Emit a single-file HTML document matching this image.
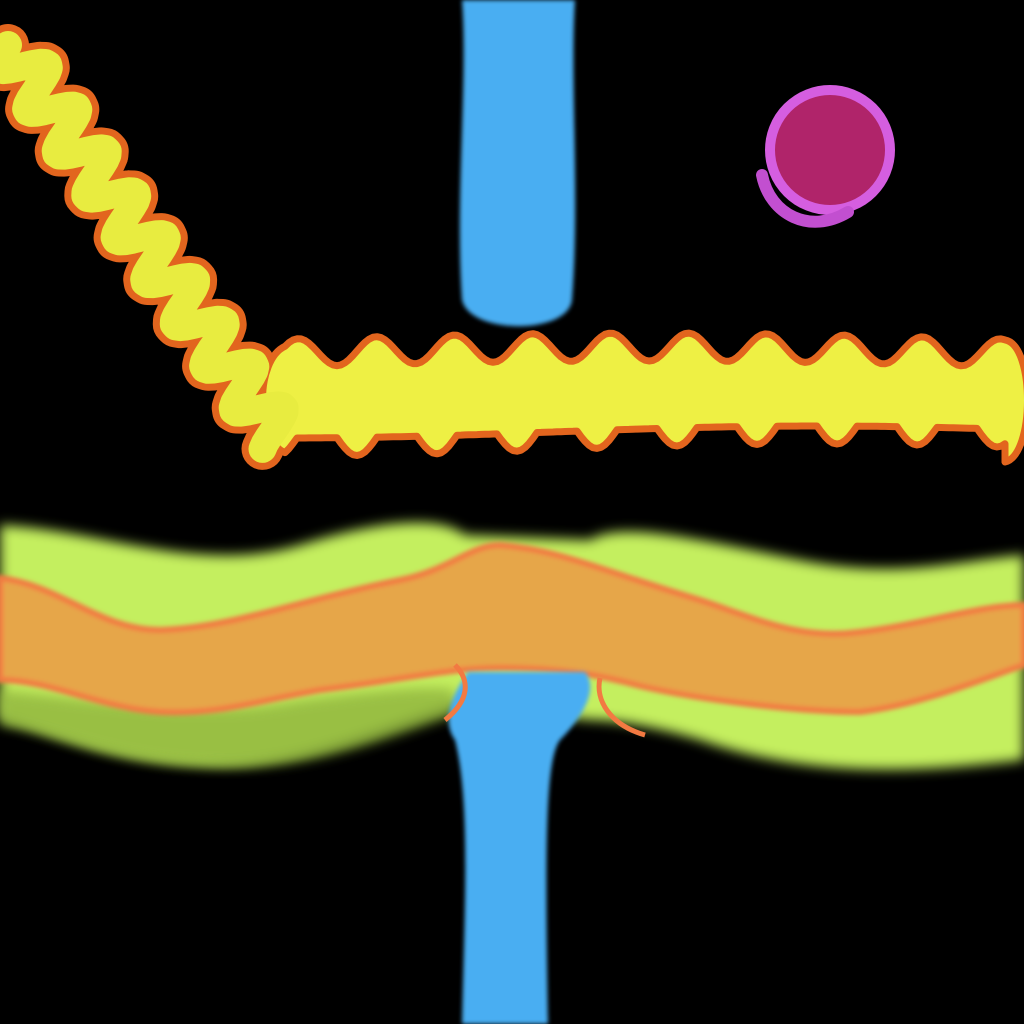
<!DOCTYPE html>
<html><head><meta charset="utf-8"><style>
html,body{margin:0;padding:0;background:#000;}
svg{display:block;}
</style></head><body>
<svg id="art" width="1024" height="1024" viewBox="0 0 1024 1024" xmlns="http://www.w3.org/2000/svg">
<defs>
<filter id="soft" x="-20%" y="-20%" width="140%" height="140%"><feGaussianBlur stdDeviation="6"/></filter>
<filter id="soft2" x="-20%" y="-20%" width="140%" height="140%"><feGaussianBlur stdDeviation="2"/></filter>
</defs>
<rect width="1024" height="1024" fill="#000"/>
<path filter="url(#soft)" fill="#c4ef5e"
 d="M0,525 C100,530 200,575 300,545 C380,520 440,515 465,535 L590,540 C620,520 700,540 800,560 C900,580 960,560 1024,555 L1024,760 C900,775 800,775 700,740 C650,725 610,720 590,720 L460,705 C400,720 300,770 200,765 C100,760 50,730 0,720 Z"/>
<path filter="url(#soft)" fill="#8fb43c" opacity="0.8"
 d="M0,690 C100,700 200,720 300,700 C380,690 430,685 455,690 L455,715 C380,740 300,775 200,765 C100,760 50,730 0,725 Z"/>
<path filter="url(#soft2)" fill="#4aaef2"
 d="M462,0 L575,0 C570,80 580,200 572,300 C568,335 470,335 462,300 C455,200 468,80 462,0 Z"/>
<path filter="url(#soft2)" fill="#e6a64a" stroke="#f27a42" stroke-width="6"
 d="M0,578 C60,585 100,630 160,630 C230,628 300,600 400,580 C450,570 470,545 500,545 C560,550 600,570 700,600 C760,620 800,640 860,632 C920,625 980,605 1024,605 L1024,665 C980,680 920,705 860,712 C800,712 700,700 640,686 C600,675 560,668 500,668 C450,668 400,680 320,690 C260,700 220,715 160,712 C100,708 50,680 0,680 Z"/>
<path filter="url(#soft2)" fill="#4aaef2"
 d="M468,672 L585,672 C600,690 580,720 560,740 C545,760 545,850 548,1024 L462,1024 C465,900 470,800 455,740 C440,720 455,690 468,672 Z"/>
<path fill="none" stroke="#f27a42" stroke-width="5" d="M455,665 C470,680 470,700 445,720"/>
<path fill="none" stroke="#f27a42" stroke-width="5" d="M600,678 C595,700 610,725 645,735"/>
<circle cx="830" cy="150" r="60" fill="#b0246a" stroke="#d55ee0" stroke-width="10"/>
<path fill="none" stroke="#c24fd0" stroke-width="12" stroke-linecap="round" d="M762,175 C770,215 810,235 848,212"/>
<path id="zigOut" fill="none" stroke="#e2651e" stroke-width="42" stroke-linejoin="round" stroke-linecap="round"/>
<path id="band" fill="#eef044" stroke="#e2651e" stroke-width="7" stroke-linejoin="round"/>
<path id="zigIn" fill="none" stroke="#e8ec40" stroke-width="28" stroke-linejoin="round" stroke-linecap="round"/>
</svg>
<script>
(function(){
  var x0=8,y0=45,x1=280,y1=440;
  var dx=x1-x0,dy=y1-y0,L=Math.sqrt(dx*dx+dy*dy);
  var nx=-dy/L,ny=dx/L;
  var pts=[];
  for(var s=0;s<=L;s+=3){
    var t=s/L,a=22*Math.sin(s/52*2*Math.PI);
    pts.push((x0+dx*t+nx*a).toFixed(1)+','+(y0+dy*t+ny*a).toFixed(1));
  }
  var d='M'+pts.join(' L');
  document.getElementById('zigOut').setAttribute('d',d);
  document.getElementById('zigIn').setAttribute('d',d);
  var top=[],bot=[];
  for(var x=285;x<=1005;x+=4){
    var u=x-285;
    var ht=42+14*Math.sin(u/78*2*Math.PI+0.5)+6*Math.sin(u/230);
    var hb=32+18*Math.max(0,Math.sin(u/80*2*Math.PI+2.2))+6*Math.cos(u/170);
    top.push(x+','+(395-ht).toFixed(1));
    bot.push(x+','+(400+hb).toFixed(1));
  }
  bot.reverse();
  var bd='M'+top.join(' L')+' C1035,345 1035,455 1005,462 L'+bot.join(' L')+' C255,440 255,360 285,'+(395-42-14*Math.sin(0.5)).toFixed(1)+' Z';
  document.getElementById('band').setAttribute('d',bd);
})();
</script>
</body></html>
